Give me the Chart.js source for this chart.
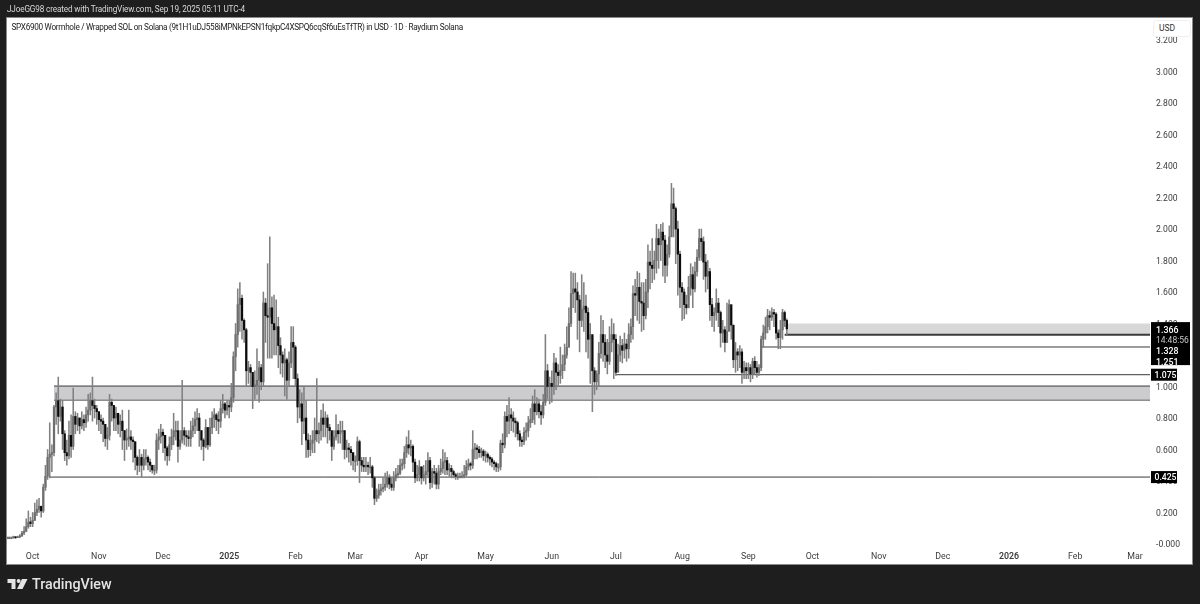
<!DOCTYPE html>
<html>
<head>
<meta charset="utf-8">
<title>SPX6900 / SOL</title>
<script src="https://cdn.jsdelivr.net/npm/chart.js@4"></script>
<style>
  html, body { margin: 0; padding: 0; width: 1200px; height: 604px; overflow: hidden; background: #1e1e1e; }
  #panel { position: absolute; left: 7px; top: 18px; width: 1185px; height: 546px; background: #fff; box-shadow: 0 0 0 1px #8a8a8a; }
  canvas { position: absolute; left: 0; top: 0; }
  .txt { position: absolute; white-space: nowrap; font-family: Roboto, sans-serif; }
  #byline { left: 7px; top: 3px; font-size: 8.2px; letter-spacing: -0.15px; line-height: 12px; color: #d8d8d8; }
  #title { left: 11.5px; top: 21px; font-size: 8.2px; letter-spacing: -0.3px; line-height: 12px; color: #222; }
  #brand { left: 32px; top: 575px; font-size: 14.3px; line-height: 19px; font-weight: 500; color: #e4e4e4; }
  #unit { left: 1153px; top: 20px; width: 38px; height: 17px; box-sizing: border-box; padding-left: 5px; background: #fff; border: 1px solid #f0f0f0; border-radius: 3px; font-size: 8.5px; line-height: 15px; color: #333; }
  #logo { position: absolute; left: 0; top: 570px; }
</style>
</head>
<body>
<div id="panel"></div>
<canvas id="chart" width="1200" height="604"></canvas>
<div class="txt" id="byline">JJoeGG98 created with TradingView.com, Sep 19, 2025 05:11 UTC-4</div>
<div class="txt" id="title">SPX6900 Wormhole / Wrapped SOL on Solana (9t1H1uDJ558iMPNkEPSN1fqkpC4XSPQ6cqSf6uEsTfTR) in USD · 1D · Raydium Solana</div>
<div class="txt" id="unit">USD</div>
<svg id="logo" width="30" height="24" viewBox="0 0 30 24">
  <path fill="#e4e4e4" d="M7.5 9h8v10h-4v-6h-4z"/>
  <circle fill="#e4e4e4" cx="18.6" cy="11" r="2"/>
  <path fill="#e4e4e4" d="M22 9h5.5l-5 10H17z"/>
</svg>
<div class="txt" id="brand">TradingView</div>

<script>
// daily candles, first one is 2024-09-19
const closes = [
  .04,.04,.04,.045,.04,.045,.05,.07,.08,.11,
  .14,.13,.15,.20,.22,.24,.21,.36,.43,.55,
  .57,.58,.87,.91,.81,.87,.70,.58,.56,.69,
  .62,.81,.76,.80,.75,.79,.77,.82,.85,.91,
  .88,.86,.84,.79,.78,.76,.67,.69,.90,.88,
  .80,.83,.76,.78,.72,.66,.67,.68,.66,.65,
  .55,.50,.55,.50,.54,.55,.52,.50,.47,.47,
  .66,.68,.71,.69,.61,.56,.63,.68,.72,.72,
  .62,.66,.72,.69,.68,.67,.72,.75,.79,.80,
  .72,.66,.62,.74,.63,.74,.80,.82,.79,.78,
  .86,.89,.85,.88,.87,.93,1.19,1.33,1.52,1.56,
  1.42,1.36,1.10,1.12,1.09,1.00,1.01,1.04,1.12,1.03,
  1.53,1.45,1.44,1.50,1.40,1.36,1.38,1.26,1.20,1.15,
  1.17,1.04,1.15,1.28,1.25,1.05,.87,.89,.78,.80,
  .66,.60,.64,.66,.72,.70,.72,.80,.76,.80,
  .74,.72,.62,.68,.72,.70,.72,.72,.60,.61,
  .60,.58,.53,.53,.65,.53,.50,.49,.50,.49,
  .49,.42,.29,.31,.34,.35,.36,.38,.42,.38,
  .36,.42,.44,.45,.50,.51,.58,.63,.61,.62,
  .52,.42,.44,.49,.42,.44,.46,.53,.39,.46,
  .45,.38,.46,.48,.52,.53,.47,.48,.46,.44,
  .43,.43,.43,.43,.44,.49,.51,.50,.60,.61,
  .60,.58,.59,.56,.57,.55,.54,.52,.51,.49,
  .49,.64,.63,.81,.78,.82,.80,.78,.77,.70,
  .66,.65,.71,.72,.77,.79,.89,.84,.89,.84,
  .82,.90,1.10,1.00,1.02,1.00,1.15,1.09,1.07,1.10,
  1.14,1.20,1.25,1.40,1.59,1.62,1.60,1.55,1.42,1.49,
  1.51,1.47,1.30,1.33,1.10,1.03,1.08,1.21,1.33,1.28,
  1.20,1.16,1.28,1.33,1.30,1.09,1.20,1.26,1.23,1.27,
  1.24,1.33,1.38,1.59,1.58,1.63,1.54,1.53,1.45,1.60,
  1.79,1.77,1.75,1.80,1.94,1.90,1.98,1.93,1.77,1.84,
  1.95,2.16,2.13,2.00,1.84,1.63,1.60,1.52,1.50,1.63,
  1.71,1.62,1.73,1.82,1.94,1.92,1.79,1.70,1.73,1.52,
  1.45,1.47,1.53,1.47,1.34,1.36,1.28,1.35,1.52,1.39,
  1.17,1.22,1.20,1.22,1.09,1.12,1.10,1.12,1.08,1.16,
  1.12,1.09,1.12,1.30,1.34,1.38,1.45,1.44,1.47,1.46,
  1.34,1.31,1.36,1.47,1.42,1.366
];
const opens = [
  .04,.04,.04,.04,.045,.04,.045,.05,.07,.08,
  .11,.14,.13,.15,.20,.22,.24,.21,.36,.43,
  .55,.57,.58,.87,.91,.81,.87,.70,.58,.56,
  .69,.62,.81,.76,.80,.75,.79,.77,.82,.85,
  .91,.88,.86,.84,.79,.78,.76,.67,.69,.90,
  .88,.80,.83,.76,.78,.72,.66,.67,.68,.66,
  .65,.55,.50,.55,.50,.54,.55,.52,.50,.47,
  .47,.66,.68,.71,.69,.61,.56,.63,.68,.72,
  .72,.62,.66,.72,.69,.68,.67,.72,.75,.79,
  .80,.72,.66,.62,.74,.63,.74,.80,.82,.79,
  .78,.86,.89,.85,.88,.87,.93,1.19,1.33,1.52,
  1.56,1.42,1.36,1.10,1.12,1.09,1.00,1.01,1.04,1.12,
  1.03,1.53,1.45,1.44,1.50,1.40,1.36,1.38,1.26,1.20,
  1.15,1.17,1.04,1.15,1.28,1.25,1.05,.87,.89,.78,
  .80,.66,.60,.64,.66,.72,.70,.72,.80,.76,
  .80,.74,.72,.62,.68,.72,.70,.72,.72,.60,
  .61,.60,.58,.53,.53,.65,.53,.50,.49,.50,
  .49,.49,.42,.29,.31,.34,.35,.36,.38,.42,
  .38,.36,.42,.44,.45,.50,.51,.58,.63,.61,
  .62,.52,.42,.44,.49,.42,.44,.46,.53,.39,
  .46,.45,.38,.46,.48,.52,.53,.47,.48,.46,
  .44,.43,.43,.43,.43,.44,.49,.51,.50,.60,
  .61,.60,.58,.59,.56,.57,.55,.54,.52,.51,
  .49,.49,.64,.63,.81,.78,.82,.80,.78,.77,
  .70,.66,.65,.71,.72,.77,.79,.89,.84,.89,
  .84,.82,.90,1.10,1.00,1.02,1.00,1.15,1.09,1.07,
  1.10,1.14,1.20,1.25,1.40,1.59,1.62,1.60,1.55,1.42,
  1.49,1.51,1.47,1.30,1.33,1.10,1.03,1.08,1.21,1.33,
  1.28,1.20,1.16,1.28,1.33,1.30,1.09,1.20,1.26,1.23,
  1.27,1.24,1.33,1.38,1.59,1.58,1.63,1.54,1.53,1.45,
  1.60,1.79,1.77,1.75,1.80,1.94,1.90,1.98,1.93,1.77,
  1.84,1.95,2.16,2.13,2.00,1.84,1.63,1.60,1.52,1.50,
  1.63,1.71,1.62,1.73,1.82,1.94,1.92,1.79,1.70,1.73,
  1.52,1.45,1.47,1.53,1.47,1.34,1.36,1.28,1.35,1.52,
  1.39,1.17,1.22,1.20,1.22,1.09,1.12,1.10,1.12,1.08,
  1.16,1.12,1.09,1.12,1.30,1.34,1.38,1.45,1.44,1.47,
  1.46,1.34,1.31,1.36,1.47,1.42
];
const highs = [
  .045,.045,.045,.05,.045,.05,.06,.08,.11,.16,
  .21,.17,.20,.26,.28,.29,.24,.38,.50,.60,
  .77,.63,.88,.96,1.06,.92,.91,.72,.66,.78,
  .82,.99,.84,.83,.80,.84,.82,.87,.95,.96,
  1.06,.92,.88,.84,.82,.80,.75,.74,.95,.92,
  .86,.87,.80,.82,.85,.72,.73,.85,.72,.68,
  .62,.56,.60,.57,.60,.60,.56,.54,.50,.50,
  .70,.73,.76,.73,.68,.62,.68,.73,.83,.78,
  .78,.72,1.04,.74,.72,.72,.78,.80,.84,.86,
  .83,.72,.67,.79,.74,.80,.84,.86,.83,.84,
  .91,.95,.90,.91,.91,1.02,1.22,1.40,1.62,1.66,
  1.58,1.43,1.37,1.16,1.14,1.06,1.10,1.24,1.16,1.14,
  1.60,1.56,1.78,1.95,1.57,1.58,1.55,1.44,1.31,1.22,
  1.24,1.18,1.22,1.38,1.38,1.26,1.08,.98,.96,1.00,
  .91,.70,.69,.72,.80,1.05,.77,.85,.89,.84,
  .82,.76,.70,.72,.82,.76,.78,.78,.72,.66,
  .64,.62,.58,.56,.68,.66,.55,.55,.55,.52,
  .55,.50,.43,.35,.38,.38,.42,.45,.46,.44,
  .42,.46,.48,.50,.54,.54,.62,.68,.72,.66,
  .63,.54,.50,.53,.49,.50,.53,.58,.55,.48,
  .50,.48,.50,.54,.60,.58,.55,.51,.50,.47,
  .45,.45,.45,.46,.50,.53,.54,.52,.72,.64,
  .63,.62,.61,.60,.59,.58,.56,.55,.53,.52,
  .51,.66,.70,.84,.88,.93,.86,.84,.80,.78,
  .72,.68,.74,.77,.81,.86,.94,.98,.93,.92,
  .88,.95,1.33,1.14,1.06,1.10,1.21,1.18,1.14,1.25,
  1.20,1.27,1.38,1.50,1.73,1.72,1.72,1.66,1.58,1.71,
  1.66,1.58,1.50,1.40,1.32,1.12,1.10,1.28,1.45,1.42,
  1.33,1.30,1.38,1.43,1.40,1.33,1.27,1.32,1.30,1.34,
  1.30,1.40,1.43,1.64,1.68,1.73,1.72,1.66,1.66,1.68,
  1.90,1.86,1.94,1.86,2.03,2.00,2.03,2.04,1.96,1.90,
  2.02,2.29,2.26,2.14,2.05,1.86,1.66,1.62,1.58,1.70,
  1.78,1.76,1.79,1.87,2.00,2.00,1.95,1.84,1.80,1.75,
  1.56,1.50,1.62,1.56,1.48,1.42,1.38,1.53,1.55,1.50,
  1.38,1.28,1.24,1.26,1.24,1.16,1.15,1.15,1.14,1.18,
  1.19,1.16,1.14,1.32,1.39,1.44,1.49,1.48,1.50,1.49,
  1.47,1.36,1.42,1.49,1.48,1.43
];
const lows = [
  .035,.035,.035,.035,.035,.04,.04,.05,.06,.08,
  .10,.11,.11,.15,.18,.20,.17,.20,.34,.41,
  .42,.46,.56,.76,.70,.78,.60,.53,.50,.54,
  .55,.60,.70,.72,.70,.73,.72,.74,.78,.82,
  .78,.80,.76,.72,.70,.65,.62,.60,.66,.78,
  .72,.72,.70,.68,.60,.53,.60,.62,.60,.52,
  .47,.44,.46,.425,.47,.50,.47,.46,.45,.44,
  .45,.60,.64,.58,.53,.50,.53,.60,.63,.66,
  .52,.60,.64,.63,.62,.62,.62,.68,.70,.72,
  .62,.60,.53,.61,.60,.62,.70,.74,.72,.70,
  .74,.83,.80,.82,.80,.84,.90,1.10,1.25,1.35,
  1.30,1.28,1.00,1.02,1.00,.86,.92,.95,.90,.98,
  1.00,1.28,1.18,1.18,1.18,1.20,1.20,1.12,1.08,1.06,
  .94,.92,1.00,1.12,1.05,1.00,.77,.80,.63,.70,
  .55,.55,.56,.58,.58,.65,.64,.66,.68,.68,
  .64,.66,.53,.60,.66,.64,.64,.60,.54,.55,
  .52,.50,.47,.46,.50,.39,.46,.46,.46,.44,
  .45,.36,.25,.27,.29,.31,.33,.34,.36,.35,
  .34,.34,.40,.42,.44,.47,.48,.55,.57,.56,
  .46,.39,.40,.40,.38,.40,.38,.43,.35,.36,
  .38,.35,.35,.44,.45,.44,.44,.43,.42,.42,
  .41,.41,.42,.42,.42,.43,.47,.47,.48,.54,
  .54,.55,.55,.53,.52,.52,.50,.49,.47,.46,
  .46,.47,.58,.61,.68,.70,.72,.71,.68,.66,
  .62,.62,.63,.66,.68,.74,.77,.76,.82,.80,
  .76,.80,.88,.92,.89,.90,.95,.98,1.00,1.02,
  1.05,1.10,1.18,1.25,1.38,1.50,1.47,1.30,1.22,1.38,
  1.35,1.22,1.18,1.02,.84,.95,.98,1.00,1.18,1.16,
  1.12,1.08,1.14,1.22,1.05,1.07,1.10,1.16,1.15,1.18,
  1.16,1.18,1.28,1.30,1.45,1.42,1.40,1.35,1.36,1.43,
  1.50,1.62,1.66,1.68,1.72,1.75,1.80,1.70,1.66,1.70,
  1.82,2.00,1.95,1.78,1.58,1.50,1.42,1.43,1.46,1.55,
  1.58,1.50,1.60,1.70,1.80,1.80,1.68,1.60,1.62,1.42,
  1.38,1.35,1.42,1.38,1.25,1.28,1.22,1.28,1.36,1.30,
  1.12,1.09,1.10,1.12,1.02,1.05,1.05,1.05,1.03,1.05,
  1.08,1.06,1.07,1.10,1.25,1.30,1.34,1.36,1.42,1.38,
  1.30,1.24,1.24,1.30,1.38,1.33
];

// x axis runs well past the last candle
const firstDay = '2024-09-19';
const dayCount = 536;
const dayKeys = [];
for (let i = 0; i < dayCount; i++) {
  const d = new Date(firstDay + 'T00:00:00Z');
  d.setUTCDate(d.getUTCDate() + i);
  dayKeys.push(d.toISOString().slice(0, 10));
}
const monthKeys = ['2024-10-01','2024-11-01','2024-12-01','2025-01-01','2025-02-01','2025-03-01','2025-04-01','2025-05-01','2025-06-01','2025-07-01','2025-08-01','2025-09-01','2025-10-01','2025-11-01','2025-12-01','2026-01-01','2026-02-01','2026-03-01'];
const monthNames = ['Oct','Nov','Dec','2025','Feb','Mar','Apr','May','Jun','Jul','Aug','Sep','Oct','Nov','Dec','2026','Feb','Mar'];
const lastDay = dayKeys[dayCount - 1];

// horizontal levels the author drew
const levelValues = [0.425, 1.075, 1.251, 1.328];
const levelStarts = ['2024-10-09', '2025-07-01', '2025-09-07', '2025-09-18'];
const levelWidths = [1, 1, 1, 2];
// grey zones: top, bottom, start
const zoneTops = [1.003, 1.40];
const zoneBottoms = [0.914, 1.328];
const zoneStarts = ['2024-10-11', '2025-09-19'];

// price tags on the right, value row and the one black block
const tagValues = [0.425, 1.075];
const tagLabels = ['0.425', '1.075'];
const stackTop = 1.409;
const stackBottom = 1.136;
const stackLabels = ['1.366', '14:48:56', '1.328', '1.251'];
const stackRows = [1.355, 1.29, 1.22, 1.15];

const fontFamily = 'Roboto, sans-serif';

const priceTags = {
  id: 'priceTags',
  afterDraw(chart) {
    const ctx = chart.ctx;
    const y = chart.scales.y;
    ctx.save();
    ctx.textBaseline = 'middle';
    ctx.textAlign = 'left';
    ctx.fillStyle = '#000';
    ctx.fillRect(1151, y.getPixelForValue(stackTop), 39, y.getPixelForValue(stackBottom) - y.getPixelForValue(stackTop));
    stackLabels.forEach((label, i) => {
      ctx.fillStyle = label.includes(':') ? '#c8c8c8' : '#fff';
      ctx.font = (label.includes(':') ? '400 8.5px ' : '500 8.8px ') + fontFamily;
      ctx.fillText(label, 1156, y.getPixelForValue(stackRows[i]));
    });
    tagValues.forEach((v, i) => {
      const py = y.getPixelForValue(v);
      ctx.fillStyle = '#000';
      ctx.fillRect(1151, py - 6, 26, 12);
      ctx.fillStyle = '#fff';
      ctx.font = '500 8.6px ' + fontFamily;
      ctx.fillText(tagLabels[i], 1154.5, py + 1);
    });
    ctx.restore();
  }
};

const datasets = [];
// candle bodies, then wicks behind them
datasets.push({
  type: 'bar',
  data: closes.map((c, i) => [opens[i], c]),
  grouped: false,
  barThickness: 1.6,
  minBarLength: 1,
  backgroundColor: closes.map((c, i) => (c >= opens[i] ? '#6e6e6e' : '#0c0c0c')),
  order: 1
});
datasets.push({
  type: 'bar',
  data: highs.map((h, i) => [lows[i], h]),
  grouped: false,
  barThickness: 0.9,
  backgroundColor: '#808080',
  order: 2
});
levelValues.forEach((v, i) => {
  datasets.push({
    type: 'line',
    data: [{ x: levelStarts[i], y: v }, { x: lastDay, y: v }],
    borderColor: '#3a3a3a',
    borderWidth: levelWidths[i],
    pointRadius: 0,
    order: 3
  });
});
zoneTops.forEach((v, i) => {
  const bordered = i === 0;
  datasets.push({
    type: 'line',
    data: [{ x: zoneStarts[i], y: v }, { x: lastDay, y: v }],
    borderColor: bordered ? '#3a3a3a' : 'rgba(0,0,0,0)',
    borderWidth: 1,
    pointRadius: 0,
    backgroundColor: bordered ? 'rgba(170,170,175,0.6)' : 'rgba(190,190,190,0.6)',
    fill: '+1',
    order: 4
  });
  datasets.push({
    type: 'line',
    data: [{ x: zoneStarts[i], y: zoneBottoms[i] }, { x: lastDay, y: zoneBottoms[i] }],
    borderColor: bordered ? '#3a3a3a' : 'rgba(0,0,0,0)',
    borderWidth: 1,
    pointRadius: 0,
    order: 4
  });
});

new Chart(document.getElementById('chart'), {
  type: 'bar',
  data: { labels: dayKeys, datasets },
  plugins: [priceTags],
  options: {
    responsive: false,
    animation: false,
    layout: { padding: { left: 7, top: 18, right: 8, bottom: 40 } },
    plugins: { legend: { display: false }, tooltip: { enabled: false } },
    scales: {
      x: {
        offset: false,
        grid: { display: false, drawTicks: false },
        border: { display: false },
        afterFit(scale) { scale.height = 17; },
        ticks: {
          autoSkip: false,
          maxRotation: 0,
          padding: 5,
          color: '#3c3c3c',
          font: ctx => ({ family: fontFamily, size: 8.8, weight: ctx.tick && /^20/.test(ctx.tick.label) ? '600' : '400' }),
          callback(value, index) {
            const at = monthKeys.indexOf(dayKeys[index]);
            return at >= 0 ? monthNames[at] : null;
          }
        }
      },
      y: {
        position: 'right',
        min: -0.019,
        max: 3.34,
        grid: { display: false, drawTicks: false },
        border: { display: false },
        afterFit(scale) { scale.width = 42; },
        ticks: {
          stepSize: 0.2,
          includeBounds: false,
          padding: 6,
          labelOffset: 1.2,
          color: '#3c3c3c',
          font: { family: fontFamily, size: 8.6 },
          callback(v) {
            return Math.abs(v) < 0.001 ? '-0.000' : Number(v).toFixed(3);
          }
        }
      }
    }
  }
});
</script>
</body>
</html>
